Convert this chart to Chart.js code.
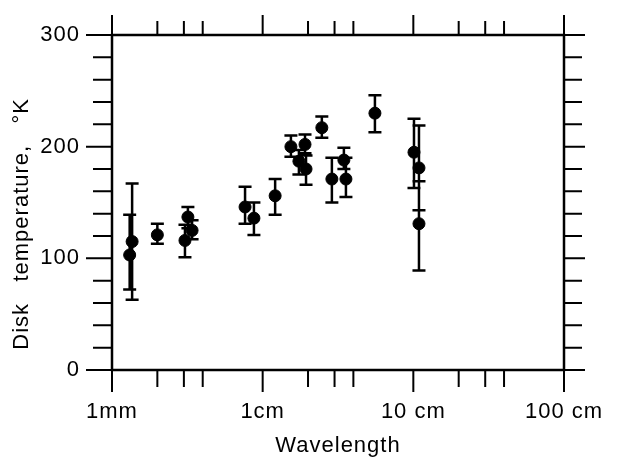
<!DOCTYPE html>
<html lang="en">
<head>
	<meta charset="UTF-8">
	<title>Disk temperature vs wavelength</title>
	<script src="https://cdn.jsdelivr.net/npm/chart.js"></script>
	<style>
		body { margin: 0; background: #fff; }
	</style>
</head>
<body>
	<canvas id="myChart" width="621" height="459"></canvas>

	<script>
		// wavelength in cm, disk temperature in K, with error bar ends
		const wavelengthCm = [0.131, 0.136, 0.20, 0.305, 0.319, 0.34, 0.764, 0.875, 1.21, 1.54, 1.74, 1.91, 1.94, 2.47, 2.88, 3.46, 3.57, 5.56, 10.1, 10.9, 10.9];
		const diskTemp     = [103, 115, 121, 116, 137, 125, 146, 136, 156, 200, 187, 202, 180, 217, 171, 188, 171, 230, 195, 181, 131];
		const tempLow      = [72, 63, 113, 101, 127, 117, 131, 121, 139, 191, 175, 194, 166, 208, 150, 180, 155, 213, 163, 143, 89];
		const tempHigh     = [139, 167, 131, 130, 146, 134, 164, 150, 171, 210, 197, 211, 192, 227, 190, 199, 190, 246, 225, 219, 169];

		const xMajorTicks = [0.1, 1, 10, 100];
		const xTickLabels = ['1mm', '1cm', '10 cm', '100 cm'];
		const xMinorTicks = [0.2, 0.3, 0.4, 2, 3, 4, 20, 30, 40];
		const yMajorTicks = [0, 100, 200, 300];
		const yMinorTicks = [20, 40, 60, 80, 120, 140, 160, 180, 220, 240, 260, 280];

		const fontFamily = "'Liberation Sans', Arial, sans-serif";

		// frame, outward tick marks and error bars
		const frameAndBars = {
			id: 'frameAndBars',
			beforeDraw(chart) {
				chart.ctx.letterSpacing = '1px';
			},
			beforeDatasetsDraw(chart) {
				const ctx = chart.ctx;
				const a = chart.chartArea;
				const x = chart.scales.x;
				const y = chart.scales.y;
				ctx.save();
				ctx.strokeStyle = '#000';
				ctx.lineWidth = 2;
				ctx.beginPath();
				xMajorTicks.forEach(v => {
					const p = x.getPixelForValue(v);
					ctx.moveTo(p, a.bottom); ctx.lineTo(p, a.bottom + 22);
					ctx.moveTo(p, a.top); ctx.lineTo(p, a.top - 20);
				});
				xMinorTicks.forEach(v => {
					const p = x.getPixelForValue(v);
					ctx.moveTo(p, a.bottom); ctx.lineTo(p, a.bottom + 17);
					ctx.moveTo(p, a.top); ctx.lineTo(p, a.top - 14);
				});
				yMajorTicks.forEach(v => {
					const p = y.getPixelForValue(v);
					ctx.moveTo(a.left, p); ctx.lineTo(a.left - 26, p);
					ctx.moveTo(a.right, p); ctx.lineTo(a.right + 21, p);
				});
				yMinorTicks.forEach(v => {
					const p = y.getPixelForValue(v);
					ctx.moveTo(a.left, p); ctx.lineTo(a.left - 19, p);
					ctx.moveTo(a.right, p); ctx.lineTo(a.right + 18, p);
				});
				ctx.stroke();

				ctx.lineWidth = 2.5;
				ctx.strokeRect(a.left, a.top, a.right - a.left, a.bottom - a.top);

				ctx.lineWidth = 2.5;
				ctx.beginPath();
				for (let i = 0; i < wavelengthCm.length; i++) {
					const px = x.getPixelForValue(wavelengthCm[i]);
					const lo = y.getPixelForValue(tempLow[i]);
					const hi = y.getPixelForValue(tempHigh[i]);
					ctx.moveTo(px, lo); ctx.lineTo(px, hi);
					ctx.moveTo(px - 6.5, lo); ctx.lineTo(px + 6.5, lo);
					ctx.moveTo(px - 6.5, hi); ctx.lineTo(px + 6.5, hi);
				}
				ctx.stroke();
				ctx.restore();
			}
		};

		const points = wavelengthCm.map((w, i) => ({x: w, y: diskTemp[i]}));

		new Chart(document.getElementById('myChart'), {
			type: 'scatter',
			data: {
				datasets: [{
					data: points,
					backgroundColor: '#000',
					borderColor: '#000',
					pointRadius: 6,
					pointHoverRadius: 6
				}]
			},
			options: {
				responsive: false,
				animation: false,
				layout: { autoPadding: false, padding: { top: 35, right: 57, left: 0, bottom: 0 } },
				plugins: {
					legend: { display: false },
					tooltip: { enabled: false }
				},
				scales: {
					x: {
						type: 'logarithmic',
						min: 0.1,
						max: 100,
						afterBuildTicks: s => { s.ticks = xMajorTicks.map(v => ({value: v})); },
						afterFit: s => {
							s.height = 89;
							s.paddingLeft = 0;
							s.paddingRight = 0;
						},
						grid: { display: false, drawTicks: false },
						border: { display: false },
						ticks: {
							callback: (v, i) => xTickLabels[i],
							padding: 29,
							color: '#000',
							maxRotation: 0,
							autoSkip: false,
							font: { family: fontFamily, size: 22 }
						},
						title: {
							display: true,
							text: 'Wavelength',
							color: '#000',
							font: { family: fontFamily, size: 22 },
							padding: { top: 0, bottom: 0 }
						}
					},
					y: {
						min: 0,
						max: 300,
						afterBuildTicks: s => { s.ticks = yMajorTicks.map(v => ({value: v})); },
						afterFit: s => {
							s.width = 112;
							s.paddingTop = 0;
							s.paddingBottom = 0;
						},
						grid: { display: false, drawTicks: false },
						border: { display: false },
						ticks: {
							padding: 32,
							color: '#000',
							font: { family: fontFamily, size: 22 }
						},
						title: {
							display: true,
							text: 'Disk   temperature,   \u00b0K      ',
							color: '#000',
							font: { family: fontFamily, size: 22 },
							padding: { top: 9, bottom: 0 }
						}
					}
				}
			},
			plugins: [frameAndBars]
		});
	</script>
</body>
</html>
